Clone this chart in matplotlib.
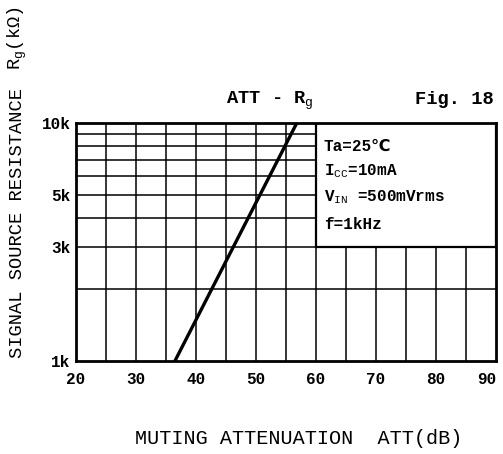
import numpy as np
import matplotlib.pyplot as plt
from matplotlib.patches import Rectangle

plt.rcParams['font.family'] = ['Liberation Mono', 'DejaVu Sans']
plt.rcParams['mathtext.fontset'] = 'custom'
plt.rcParams['mathtext.rm'] = 'Liberation Mono'
plt.rcParams['mathtext.it'] = 'Liberation Mono'

# Data
att_db = [36.5, 56.8]          # muting attenuation (dB)
rg_ohm = [1000, 10000]         # signal source resistance (ohm)

x_ticks = [20, 30, 40, 50, 60, 70, 80, 90]
y_ticks = [1000, 3000, 5000, 10000]
y_labels = ['1k', '3k', '5k', '10k']
conditions = ['Ta=25\u2103', r'I$_{\rm CC}$=10mA',
              r'V$_{\rm IN}$ =500mVrms', 'f=1kHz']

fig = plt.figure(figsize=(5.03, 4.54), dpi=100)
ax = fig.add_axes([0.151, 0.205, 0.835, 0.524])

# grid
for xv in np.arange(25, 90, 5):
    ax.axvline(xv, color='black', lw=1.1, zorder=1)
for yv in range(2000, 10000, 1000):
    ax.axhline(yv, color='black', lw=1.1, zorder=1)

# conditions box covers the grid in the upper right
ax.add_patch(Rectangle((60, 3000), 30, 7000, facecolor='white',
                       edgecolor='black', lw=1.6, zorder=2))
ty = [7950, 6250, 4900, 3750]
for t, yv in zip(conditions, ty):
    ax.text(61.3, yv, t, fontsize=11.5, fontweight='bold', va='center', zorder=3)

ax.plot(att_db, rg_ohm, color='black', lw=2.4, zorder=4, clip_on=True)

ax.set_yscale('log')
ax.set_xlim(20, 90)
ax.set_ylim(1000, 10000)
ax.set_xticks(x_ticks)
ax.set_xticklabels([str(v) for v in x_ticks], fontsize=11.5, fontweight='bold')
ax.get_xticklabels()[-1].set_horizontalalignment('right')
ax.set_yticks(y_ticks)
ax.set_yticklabels(y_labels, fontsize=11.5, fontweight='bold')
ax.yaxis.set_minor_locator(plt.NullLocator())
ax.tick_params(length=0, pad=4)
ax.tick_params(axis='x', pad=8)
for s in ax.spines.values():
    s.set_linewidth(2)
    s.set_zorder(5)

fig.text(0.537, 0.772, r'ATT - R$_{\rm g}$', fontsize=13.5, fontweight='bold', ha='center')
fig.text(0.982, 0.772, 'Fig. 18', fontsize=13.5, fontweight='bold', ha='right')
fig.text(0.035, 0.508, 'SIGNAL SOURCE RESISTANCE', rotation=90, fontsize=13.5,
         ha='center', va='center')
fig.text(0.035, 0.915, 'R$_{\\rm g}$(k\u03a9)', rotation=90, fontsize=13.5,
         ha='center', va='center')
fig.text(0.594, 0.035, 'MUTING ATTENUATION  ATT(dB)', fontsize=14.5,
         ha='center', va='center')

fig.savefig('out.png', dpi=100)
